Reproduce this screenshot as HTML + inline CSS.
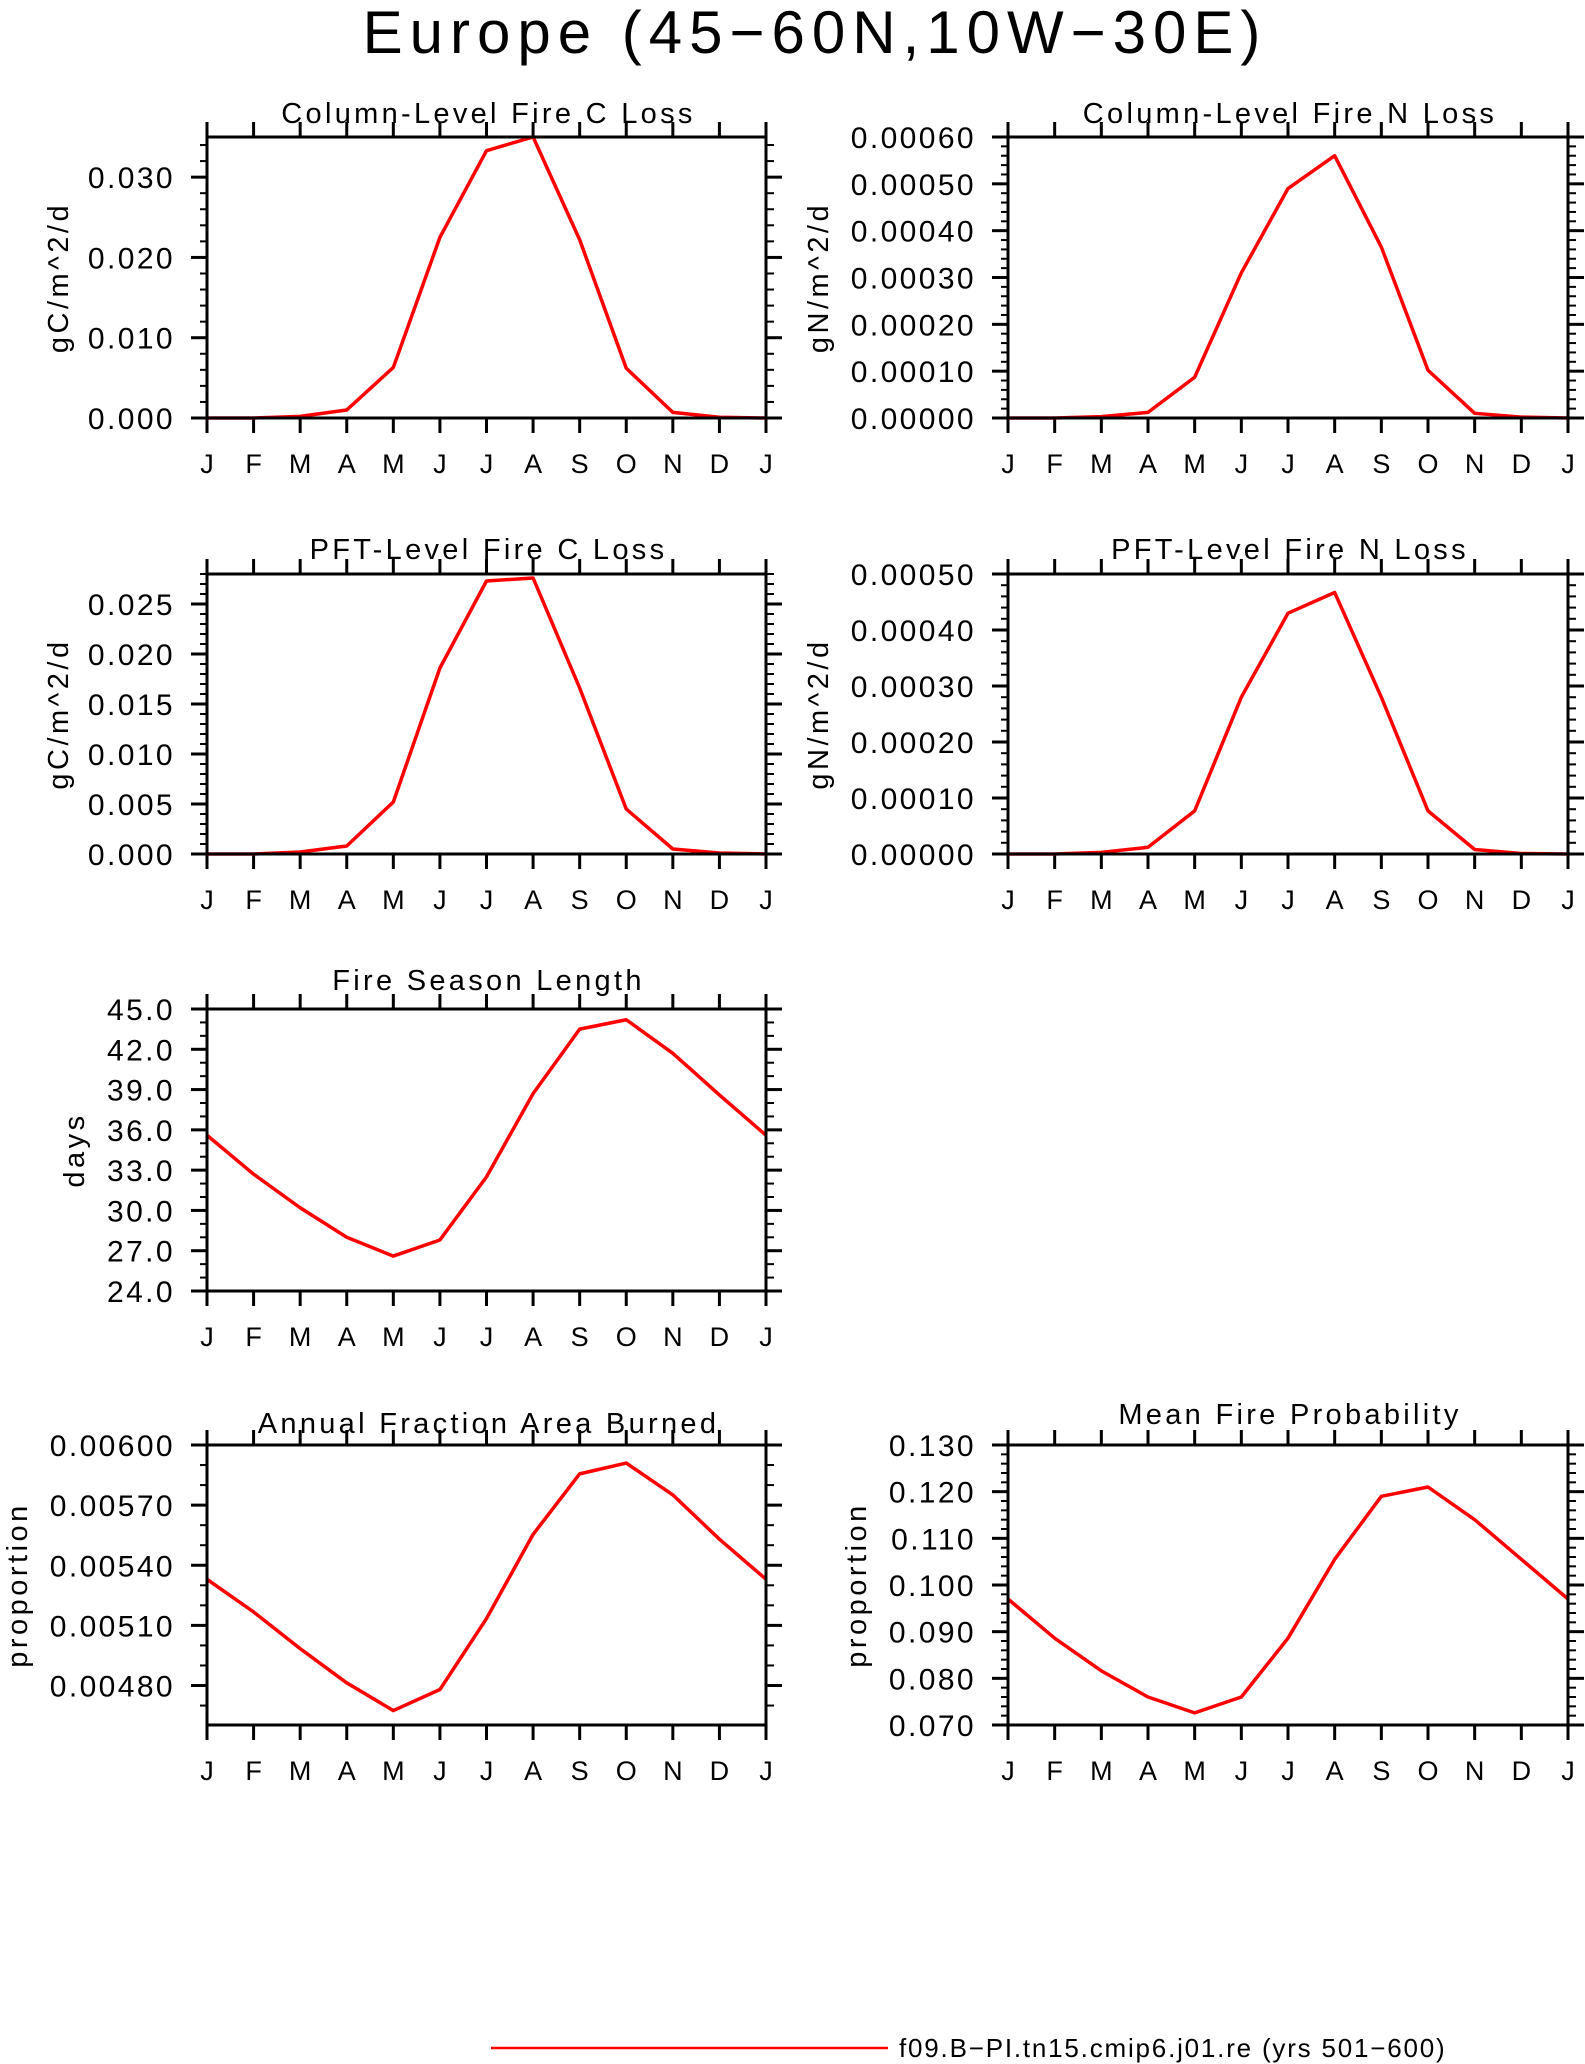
<!DOCTYPE html>
<html><head><meta charset="utf-8"><style>
html,body{margin:0;padding:0;background:#fff}
svg{display:block}
text{font-family:"Liberation Sans",sans-serif;fill:#000}
</style></head><body>
<svg id="chart" width="1585" height="2064" viewBox="0 0 1585 2064" xmlns="http://www.w3.org/2000/svg">
<text x="815" y="53" font-size="60" text-anchor="middle" letter-spacing="7">Europe (45−60N,10W−30E)</text>
<g id="panels"></g>
<line x1="491" y1="2048" x2="888" y2="2048" stroke="#f00" stroke-width="2.5"/>
<text x="899" y="2057" font-size="26" letter-spacing="1.8">f09.B−PI.tn15.cmip6.j01.re (yrs 501−600)</text>
</svg>
<script>
const months = ["J","F","M","A","M","J","J","A","S","O","N","D","J"];
const colCLoss = [0,0,0.0002,0.001,0.0063,0.0225,0.0333,0.035,0.0222,0.0062,0.0007,0.0001,0];
const colNLoss = [0,0,0.000003,0.000012,0.000087,0.00031,0.00049,0.00056,0.000365,0.000102,0.00001,0.000002,0];
const pftCLoss = [0,0,0.0002,0.0008,0.0052,0.0186,0.0273,0.0276,0.0166,0.0045,0.0005,0.0001,0];
const pftNLoss = [0,0,0.000003,0.000012,0.000077,0.00028,0.00043,0.000467,0.00028,0.000077,0.000008,0.000001,0];
const seasonLength = [35.6,32.7,30.2,28.0,26.6,27.8,32.5,38.7,43.5,44.2,41.7,38.6,35.6];
const areaBurned = [0.00533,0.005167,0.004984,0.004813,0.004675,0.00478,0.005134,0.005554,0.005856,0.00591,0.005751,0.00553,0.00533];
const fireProb = [0.097,0.0886,0.0816,0.076,0.0726,0.076,0.0886,0.1055,0.119,0.121,0.114,0.1055,0.097];
const ticksP1 = ["0.000","0.010","0.020","0.030"];
const ticksP2 = ["0.00000","0.00010","0.00020","0.00030","0.00040","0.00050","0.00060"];
const ticksP3 = ["0.000","0.005","0.010","0.015","0.020","0.025"];
const ticksP4 = ["0.00000","0.00010","0.00020","0.00030","0.00040","0.00050"];
const ticksP5 = ["24.0","27.0","30.0","33.0","36.0","39.0","42.0","45.0"];
const ticksP6 = ["0.00480","0.00510","0.00540","0.00570","0.00600"];
const ticksP7 = ["0.070","0.080","0.090","0.100","0.110","0.120","0.130"];

const NS="http://www.w3.org/2000/svg";
const root=document.getElementById('panels');
function mk(tag,attrs,parent){const e=document.createElementNS(NS,tag);for(const k in attrs)e.setAttribute(k,attrs[k]);(parent||root).appendChild(e);return e;}

const panels=[
 {name:"column-fire-c-loss",title:"Column-Level Fire C Loss",ylab:"gC/m^2/d",x0:207,x1:766,y0:137,y1:418,ymin:0,ymax:0.035,ticks:ticksP1,minor:5,data:colCLoss,ty:123,lx:59},
 {name:"column-fire-n-loss",title:"Column-Level Fire N Loss",ylab:"gN/m^2/d",x0:1008,x1:1568,y0:137,y1:418,ymin:0,ymax:0.0006,ticks:ticksP2,minor:5,data:colNLoss,ty:123,lx:819},
 {name:"pft-fire-c-loss",title:"PFT-Level Fire C Loss",ylab:"gC/m^2/d",x0:207,x1:766,y0:574,y1:854,ymin:0,ymax:0.028,ticks:ticksP3,minor:5,data:pftCLoss,ty:559,lx:59},
 {name:"pft-fire-n-loss",title:"PFT-Level Fire N Loss",ylab:"gN/m^2/d",x0:1008,x1:1568,y0:574,y1:854,ymin:0,ymax:0.0005,ticks:ticksP4,minor:5,data:pftNLoss,ty:559,lx:819},
 {name:"fire-season-length",title:"Fire Season Length",ylab:"days",x0:207,x1:766,y0:1009,y1:1291,ymin:24,ymax:45,ticks:ticksP5,minor:3,data:seasonLength,ty:990,lx:75},
 {name:"annual-fraction-area-burned",title:"Annual Fraction Area Burned",ylab:"proportion",x0:207,x1:766,y0:1445,y1:1725,ymin:0.004603,ymax:0.006,ticks:ticksP6,minor:3,data:areaBurned,ty:1433,lx:18},
 {name:"mean-fire-probability",title:"Mean Fire Probability",ylab:"proportion",x0:1008,x1:1568,y0:1445,y1:1725,ymin:0.07,ymax:0.13,ticks:ticksP7,minor:5,data:fireProb,ty:1424,lx:857}
];

panels.forEach(p=>{
 const g=mk('g',{});
 
 
 const xs=i=>p.x0+(p.x1-p.x0)*i/(months.length-1);
 const ys=v=>p.y1-(p.y1-p.y0)*(v-p.ymin)/(p.ymax-p.ymin);
 const t=mk('text',{x:(p.x0+p.x1)/2+2,y:p.ty,'font-size':29,'text-anchor':'middle','letter-spacing':3.3},g);
 t.textContent=p.title;
 
 
 const cy=(p.y0+p.y1)/2;
 const yl=mk('text',{x:p.lx,y:cy,'font-size':29,'text-anchor':'middle','letter-spacing':3.5,transform:`rotate(-90 ${p.lx} ${cy})`,'dominant-baseline':'central'},g);
 yl.textContent=p.ylab;
 
 
 months.forEach((m,i)=>{
  const x=xs(i);
  mk('line',{x1:x,y1:p.y1,x2:x,y2:p.y1+15,stroke:'#000','stroke-width':3},g);
  mk('line',{x1:x,y1:p.y0,x2:x,y2:p.y0-15,stroke:'#000','stroke-width':3},g);
  const l=mk('text',{x:x,y:p.y1+55,'font-size':27,'text-anchor':'middle'},g);
  l.textContent=m;
  
  
 });
 const vals=p.ticks.map(Number);
 const step=vals[1]-vals[0];
 const mstep=step/p.minor;
 for(let v=vals[0]-step*3;v<=p.ymax+1e-12;v+=mstep){
  if(v<p.ymin-1e-12) continue;
  const y=ys(v);
  mk('line',{x1:p.x0-7,y1:y,x2:p.x0,y2:y,stroke:'#000','stroke-width':2},g);
  mk('line',{x1:p.x1,y1:y,x2:p.x1+8,y2:y,stroke:'#000','stroke-width':2},g);
 }
 p.ticks.forEach((s,i)=>{
  const y=ys(vals[i]);
  mk('line',{x1:p.x0-16,y1:y,x2:p.x0,y2:y,stroke:'#000','stroke-width':3},g);
  mk('line',{x1:p.x1,y1:y,x2:p.x1+16,y2:y,stroke:'#000','stroke-width':3},g);
  const l=mk('text',{x:p.x0-32,y:y+11,'font-size':30,'text-anchor':'end','letter-spacing':2.4},g);
  l.textContent=s;
  
  
 });
 const pts=p.data.map((v,i)=>xs(i)+','+ys(v)).join(' ');
 const ln=mk('polyline',{points:pts,fill:'none',stroke:'#f00','stroke-width':3.5,'stroke-linejoin':'round'},g);
 
 
 const fr=mk('rect',{x:p.x0,y:p.y0,width:p.x1-p.x0,height:p.y1-p.y0,fill:'none',stroke:'#000','stroke-width':3},g);
 
 
});
</script>
</body></html>
